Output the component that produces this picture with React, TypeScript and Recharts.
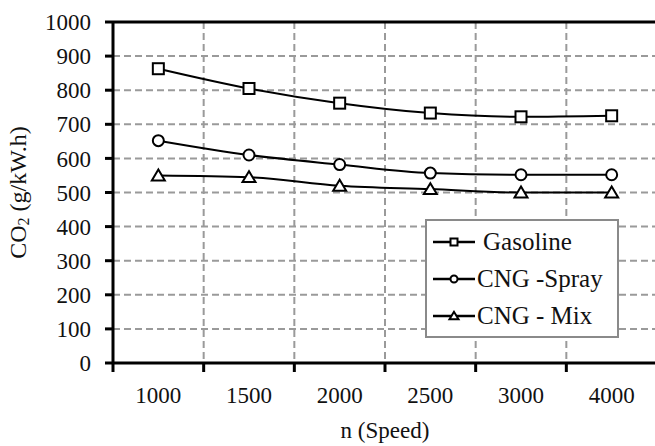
import React from "react"
import {
  LineChart,
  Line,
  XAxis,
  YAxis,
  CartesianGrid,
  ReferenceLine,
} from "recharts"

const speeds = ["1000", "1500", "2000", "2500", "3000", "4000"]
const gasoline = [863, 805, 762, 733, 722, 725]
const cngSpray = [652, 610, 582, 557, 552, 552]
const cngMix = [550, 545, 520, 510, 500, 500]
const yTicks = [0, 100, 200, 300, 400, 500, 600, 700, 800, 900, 1000]

const FONT = "'Liberation Serif', 'Times New Roman', serif"

// x position = category index + 0.5 so points sit between the gridlines
const data = speeds.map((s, i) => ({
  pos: i + 0.5,
  speed: s,
  gasoline: gasoline[i],
  cngSpray: cngSpray[i],
  cngMix: cngMix[i],
}))

const xTicks = Array.from({ length: 13 }, (_, i) => i / 2)

const Marker = ({ shape, cx, cy, s }: { shape: string; cx: number; cy: number; s: number }) => {
  if (shape === "square")
    return <rect x={cx - s / 2} y={cy - s / 2} width={s} height={s} fill="#fff" stroke="#000" strokeWidth={2} />
  if (shape === "circle")
    return <circle cx={cx} cy={cy} r={s / 2} fill="#fff" stroke="#000" strokeWidth={2} />
  const h = s * 0.9
  return (
    <polygon
      points={`${cx},${cy - h / 2 - 1} ${cx - s / 2 - 1},${cy + h / 2} ${cx + s / 2 + 1},${cy + h / 2}`}
      fill="#fff"
      stroke="#000"
      strokeWidth={2}
      strokeLinejoin="miter"
    />
  )
}

const dotFor = (shape: string) => (props: any) =>
  <Marker key={`${shape}-${props.index}`} shape={shape} cx={props.cx} cy={props.cy} s={11} />

const XTick = (props: any) => {
  const { x, y, payload } = props
  const v = payload.value
  if (Number.isInteger(v)) {
    return <line x1={x} x2={x} y1={y} y2={y + 9} stroke="#000" strokeWidth={3} />
  }
  const label = speeds[Math.floor(v)]
  return (
    <text x={x} y={y + 35} textAnchor="middle" dominantBaseline="middle" fontFamily={FONT} fontSize={23} fill="#111">
      {label}
    </text>
  )
}

const YLabel = (props: any) => {
  const vb = props.viewBox
  const cx = 20
  const cy = vb.y + vb.height / 2
  return (
    <text
      x={cx}
      y={cy}
      transform={`rotate(-90, ${cx}, ${cy})`}
      textAnchor="middle"
      dominantBaseline="middle"
      fontFamily={FONT}
      fontSize={24}
      fill="#111"
    >
      CO<tspan fontSize={16} dy={5}>2</tspan>
      <tspan dy={-5}> (g/kW.h)</tspan>
    </text>
  )
}

const legendItems = [
  { name: "Gasoline", shape: "square", pad: 6 },
  { name: "CNG -Spray", shape: "circle", pad: 0 },
  { name: "CNG - Mix", shape: "triangle", pad: 0 },
]

const LegendBox = () => (
  <div
    style={{
      position: "absolute",
      left: 425,
      top: 219,
      border: "2px solid #8a8a8a",
      background: "#fff",
      width: 190,
      height: 113,
      boxSizing: "content-box",
      fontFamily: FONT,
      fontSize: 25,
      color: "#111",
      paddingTop: 2,
    }}
  >
    {legendItems.map((it) => (
      <div key={it.name} style={{ display: "flex", alignItems: "center", height: 37 }}>
        <svg width={46} height={20} style={{ marginLeft: 4 }}>
          <line x1={2} x2={44} y1={10} y2={10} stroke="#000" strokeWidth={2.5} />
          <Marker shape={it.shape} cx={23} cy={10} s={7} />
        </svg>
        <span style={{ marginLeft: it.pad, whiteSpace: "nowrap" }}>{it.name}</span>
      </div>
    ))}
  </div>
)

export default function App() {
  return (
    <div style={{ position: "absolute", left: 0, top: 0, width: 655, height: 446, overflow: "hidden", background: "#fff" }}>
      <LineChart width={662} height={446} data={data} margin={{ top: 22, right: 5, left: 0, bottom: 0 }}>
        <CartesianGrid
          stroke="#9a9a9a"
          strokeWidth={2}
          strokeDasharray="7 4"
          verticalCoordinatesGenerator={({ offset }: any) =>
            [1, 2, 3, 4, 5].map((i) => offset.left + (offset.width * i) / speeds.length)
          }
        />
        <XAxis
          type="number"
          dataKey="pos"
          domain={[0, speeds.length]}
          ticks={xTicks}
          interval={0}
          tickSize={0}
          tickMargin={0}
          tickLine={false}
          tick={<XTick />}
          axisLine={{ stroke: "#000", strokeWidth: 3 }}
          height={83}
          label={{
            value: "n (Speed)",
            position: "insideBottom",
            offset: 8,
            style: { fontFamily: FONT, fontSize: 23, fill: "#111" },
          }}
        />
        <YAxis
          type="number"
          domain={[0, 1000]}
          ticks={yTicks}
          interval={0}
          width={113}
          tickSize={8}
          tickMargin={14}
          tickLine={{ stroke: "#000", strokeWidth: 3 }}
          axisLine={{ stroke: "#000", strokeWidth: 3 }}
          tick={{ fontFamily: FONT, fontSize: 23, fill: "#111" }}
          label={{ content: <YLabel /> }}
        />
        <ReferenceLine y={1000} stroke="#000" strokeWidth={3} />
        <Line type="monotone" dataKey="gasoline" name="Gasoline" stroke="#000" strokeWidth={2} dot={dotFor("square")} isAnimationActive={false} />
        <Line type="monotone" dataKey="cngSpray" name="CNG -Spray" stroke="#000" strokeWidth={2} dot={dotFor("circle")} isAnimationActive={false} />
        <Line type="monotone" dataKey="cngMix" name="CNG - Mix" stroke="#000" strokeWidth={2} dot={dotFor("triangle")} isAnimationActive={false} />
      </LineChart>
      <LegendBox />
    </div>
  )
}
